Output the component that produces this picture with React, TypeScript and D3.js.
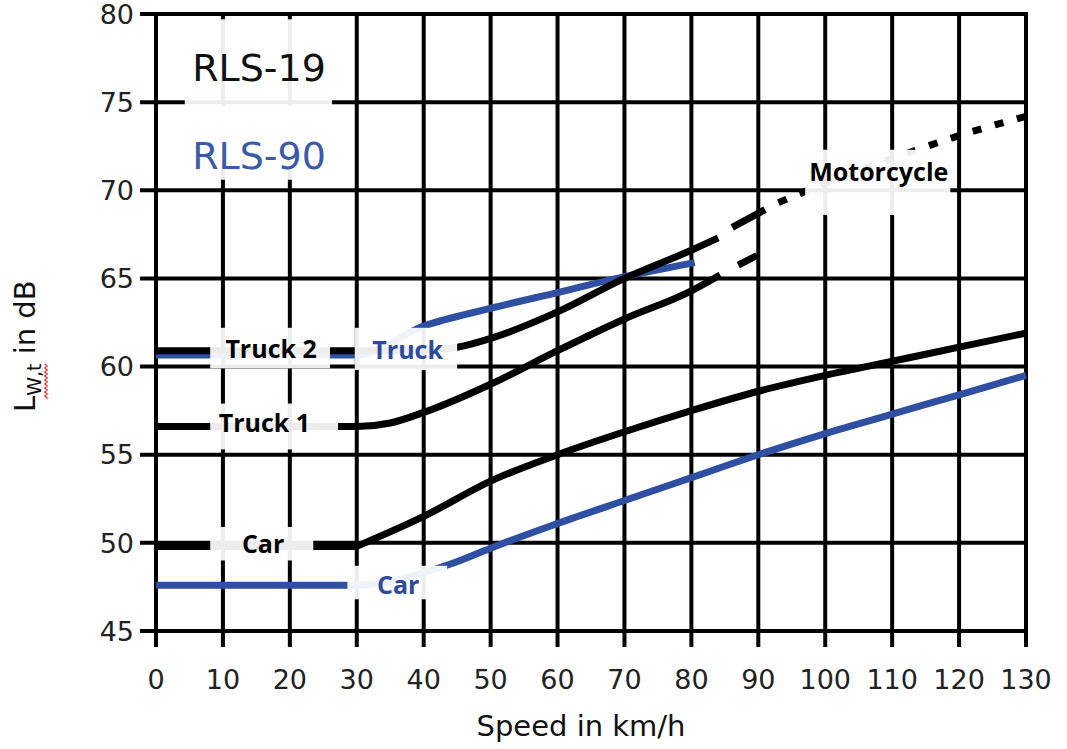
import * as d3 from 'd3';

const W = 1067;
const H = 749;
const margin = { top: 14, right: 41, bottom: 118, left: 156 };

const speedTicks = [0, 10, 20, 30, 40, 50, 60, 70, 80, 90, 100, 110, 120, 130];
const levelTicks = [45, 50, 55, 60, 65, 70, 75, 80];

// RLS-19 (black)
const car19FlatSpeed = [0, 30];
const car19FlatLevel = [49.8, 49.8];
const car19Speed = [30, 40, 50, 60, 70, 80, 90, 100, 110, 120, 130];
const car19Level = [49.8, 51.5, 53.5, 55.0, 56.3, 57.5, 58.6, 59.5, 60.3, 61.1, 61.9];

const truck1Speed = [0, 30, 35, 40, 50, 60, 70, 80, 84.3];
const truck1Level = [56.6, 56.6, 56.8, 57.4, 59.0, 60.9, 62.7, 64.3, 65.2];
const truck1DashSpeed = [87, 89.8];
const truck1DashLevel = [65.75, 66.3];

const truck2Speed = [0, 30, 40, 45, 50, 60, 70, 80, 84];
const truck2Level = [60.9, 60.9, 60.95, 61.1, 61.6, 63.1, 65.0, 66.6, 67.3];
const truck2DashSpeed = [86.1, 91];
const truck2DashLevel = [67.9, 68.9];

const motoSpeed = [93, 100, 110, 120, 130];
const motoLevel = [69.3, 70.4, 71.8, 73.1, 74.2];

// RLS-90 (blue)
const car90Speed = [0, 30, 44, 50, 60, 70, 80, 90, 100, 110, 120, 130];
const car90Level = [47.6, 47.6, 48.8, 49.7, 51.1, 52.4, 53.7, 55.0, 56.2, 57.3, 58.4, 59.5];

const truck90Speed = [0, 30, 40, 50, 60, 70, 80.5];
const truck90Level = [60.65, 60.65, 62.3, 63.3, 64.2, 65.1, 65.9];

const BLACK = '#000';
const BLUE = '#2f4fa3';
const LABEL_BLUE = '#2e4a9c';

const zip = (xs: number[], ys: number[]) => xs.map((x, i) => [x, ys[i]] as [number, number]);

const segments = [
  { pts: zip(truck90Speed, truck90Level), color: BLUE, curve: d3.curveMonotoneX },
  { pts: zip(car90Speed, car90Level), color: BLUE, curve: d3.curveMonotoneX },
  { pts: zip(car19FlatSpeed, car19FlatLevel), color: BLACK, curve: d3.curveLinear },
  { pts: zip(car19Speed, car19Level), color: BLACK, curve: d3.curveMonotoneX },
  { pts: zip(truck1Speed, truck1Level), color: BLACK, curve: d3.curveMonotoneX },
  { pts: zip(truck1DashSpeed, truck1DashLevel), color: BLACK, curve: d3.curveLinear },
  { pts: zip(truck2Speed, truck2Level), color: BLACK, curve: d3.curveMonotoneX },
  { pts: zip(truck2DashSpeed, truck2DashLevel), color: BLACK, curve: d3.curveLinear },
  { pts: zip(motoSpeed, motoLevel), color: BLACK, curve: d3.curveMonotoneX, dash: '9 14' },
];

// pasted-over label boxes: [speed0, speed1, levelTop, levelBottom]
const boxes = [
  [4.3, 26.3, 79.7, 71.4],
  [4.3, 26.3, 74.8, 70.6],
  [8.1, 26.0, 62.2, 59.9],
  [29.7, 45.0, 62.2, 59.8],
  [8.1, 27.2, 57.9, 55.3],
  [8.1, 23.5, 50.9, 49.0],
  [28.6, 43.5, 48.7, 46.8],
  [97.0, 118.7, 72.3, 68.6],
];

const curveLabels = [
  { text: 'Truck 2', speed: 17.2, level: 61.0, color: BLACK },
  { text: 'Truck', speed: 37.6, level: 60.9, color: LABEL_BLUE },
  { text: 'Truck 1', speed: 16.2, level: 56.8, color: BLACK },
  { text: 'Car', speed: 16.0, level: 49.9, color: BLACK },
  { text: 'Car', speed: 36.2, level: 47.6, color: LABEL_BLUE },
  { text: 'Motorcycle', speed: 108.0, level: 71.0, color: BLACK },
];

export default function App() {
  const iw = W - margin.left - margin.right;
  const ih = H - margin.top - margin.bottom;

  const x = d3.scaleLinear().domain([0, 130]).range([0, iw]);
  const y = d3.scaleLinear().domain([45, 80]).range([ih, 0]);

  const line = (curve: d3.CurveFactory) =>
    d3
      .line<[number, number]>()
      .x((d) => x(d[0]))
      .y((d) => y(d[1]))
      .curve(curve);

  // red spell-check squiggle under the subscript
  let wave = 'M14,11';
  for (let u = 14; u <= 48; u += 2) wave += ` L${u},${11 + ((u / 2) % 2 === 0 ? -1.3 : 1.3)}`;

  return (
    <svg
      width={W}
      height={H}
      style={{ position: 'absolute', left: 0, top: 0, background: '#fff' }}
      fontFamily="DejaVu Sans, sans-serif"
    >
      <g transform={`translate(${margin.left},${margin.top})`}>
        {/* grid */}
        {speedTicks.map((t) => (
          <line key={'vx' + t} x1={x(t)} x2={x(t)} y1={-2} y2={ih + 16} stroke="#000" strokeWidth={4} />
        ))}
        {levelTicks.map((t) => (
          <line key={'hy' + t} x1={-16} x2={iw + 2} y1={y(t)} y2={y(t)} stroke="#000" strokeWidth={4} />
        ))}

        {/* curves */}
        {segments.map((s, i) => (
          <path
            key={i}
            d={line(s.curve)(s.pts) ?? ''}
            fill="none"
            stroke={s.color}
            strokeWidth={7}
            strokeDasharray={s.dash}
          />
        ))}

        {/* label boxes */}
        {boxes.map((b, i) => (
          <rect
            key={'b' + i}
            x={x(b[0])}
            y={y(b[2])}
            width={x(b[1]) - x(b[0])}
            height={y(b[3]) - y(b[2])}
            fill="#fff"
            fillOpacity={0.93}
          />
        ))}

        {curveLabels.map((l, i) => (
          <text
            key={'l' + i}
            x={x(l.speed)}
            y={y(l.level)}
            dy="0.35em"
            textAnchor="middle"
            fontFamily="Open Sans, sans-serif"
            fontWeight="bold"
            fontSize={25}
            fill={l.color}
          >
            {l.text}
          </text>
        ))}

        <text x={x(5.4)} y={y(77)} dy="0.36em" fontSize={38} fill="#111">
          RLS-19
        </text>
        <text x={x(5.4)} y={y(72)} dy="0.36em" fontSize={38} fill="#3b5ba8">
          RLS-90
        </text>

        {/* tick labels */}
        {speedTicks.map((t) => (
          <text key={'tx' + t} x={x(t)} y={ih + 58} textAnchor="middle" fontSize={27} fill="#222">
            {t}
          </text>
        ))}
        {levelTicks.map((t) => (
          <text key={'ty' + t} x={-22} y={y(t)} dy="0.36em" textAnchor="end" fontSize={27} fill="#222">
            {t}
          </text>
        ))}

        <text x={iw / 2 - 10} y={ih + 105} textAnchor="middle" fontSize={29} fill="#111">
          Speed in km/h
        </text>
      </g>

      <g transform="translate(35,412) rotate(-90)">
        <text x={0} y={0} fontSize={29} fill="#111">
          L
          <tspan fontSize={19} dy={6}>
            W,t
          </tspan>
          <tspan dy={-6}> in dB</tspan>
        </text>
        <path d={wave} fill="none" stroke="#e03030" strokeWidth={1.2} />
      </g>
    </svg>
  );
}
